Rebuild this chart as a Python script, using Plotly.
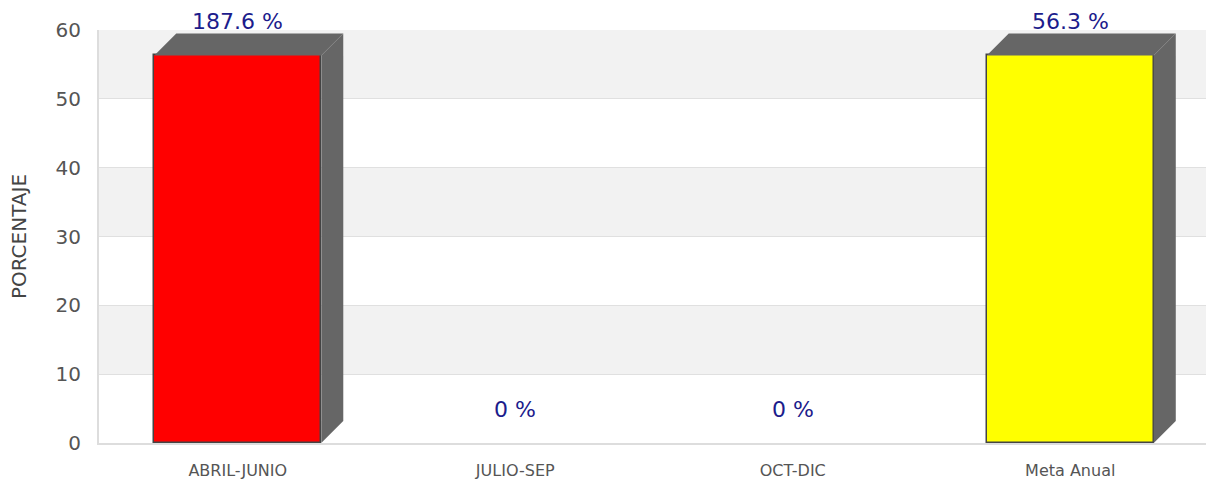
import plotly.graph_objects as go

categories = ["ABRIL-JUNIO", "JULIO-SEP", "OCT-DIC", "Meta Anual"]
values = [187.6, 0, 0, 56.3]
bar_colors = ["#ff0000", "#ff0000", "#ff0000", "#ffff00"]
y_ticks = [0, 10, 20, 30, 40, 50, 60]

# displayed height is capped at the annual goal
meta = values[-1]
shown = [min(v, meta) for v in values]

W, H = 1206, 484
ML, MR, MT, MB = 99, 0, 30, 41
plot_w = W - ML - MR
plot_h = H - MT - MB
cat_px = 277.5
x0 = -0.5
x1 = x0 + plot_w / cat_px
y0, y1 = 0, 60
bar_w = 0.602
depth_px = 22
dx = depth_px / cat_px
dy = depth_px * (y1 - y0) / plot_h

fig = go.Figure()

# 3D side and top faces
for i, v in enumerate(shown):
    if v <= 0:
        continue
    xl = i - bar_w / 2
    xr = i + bar_w / 2
    fig.add_trace(go.Scatter(
        x=[xr, xr, xr + dx, xr + dx, xr],
        y=[0, v, v + dy, dy, 0],
        fill="toself", fillcolor="#666666", mode="lines",
        line=dict(color="#666666", width=0), hoverinfo="skip", showlegend=False))
    fig.add_trace(go.Scatter(
        x=[xl, xl + dx, xr + dx, xr, xl],
        y=[v, v + dy, v + dy, v, v],
        fill="toself", fillcolor="#666666", mode="lines",
        line=dict(color="#666666", width=0), hoverinfo="skip", showlegend=False))

fig.add_trace(go.Bar(
    x=list(range(len(categories))), y=shown, width=bar_w,
    marker=dict(color=bar_colors,
                line=dict(color="#444444", width=[1.5 if v > 0 else 0 for v in shown])),
    showlegend=False, hoverinfo="skip"))

for i, (v, s) in enumerate(zip(values, shown)):
    fig.add_annotation(
        x=i, y=s, text=f"{v:g} %", showarrow=False,
        yanchor="middle", yshift=depth_px + 12,
        font=dict(family="DejaVu Sans", size=22, color="#1c1c8c"))

# alternating bands
for a, b in zip(y_ticks[1::2], y_ticks[2::2]):
    fig.add_shape(type="rect", xref="paper", yref="y", x0=0, x1=1, y0=a, y1=b,
                  fillcolor="#f2f2f2", line=dict(width=0), layer="below")

fig.update_layout(
    width=W, height=H,
    margin=dict(l=ML, r=MR, t=MT, b=MB),
    plot_bgcolor="white", paper_bgcolor="white",
    font=dict(family="DejaVu Sans", color="#555555"),
    bargap=0,
)
fig.update_xaxes(
    range=[x0, x1], tickmode="array", tickvals=list(range(len(categories))),
    ticktext=categories, tickfont=dict(size=16, color="#555555"),
    showgrid=False, showline=True, linecolor="#dddddd", linewidth=2,
    ticks="outside", ticklen=0, ticklabelstandoff=12, zeroline=False)
fig.update_yaxes(
    range=[y0, y1], tickmode="array", tickvals=y_ticks,
    tickfont=dict(size=20, color="#555555"),
    showgrid=True, gridcolor="#e0e0e0", gridwidth=1,
    showline=True, linecolor="#dddddd", linewidth=2,
    zeroline=False, ticklabelstandoff=12,
    title=dict(text="PORCENTAJE", font=dict(size=20, color="#444444"), standoff=24))

fig.write_html("out.html")
